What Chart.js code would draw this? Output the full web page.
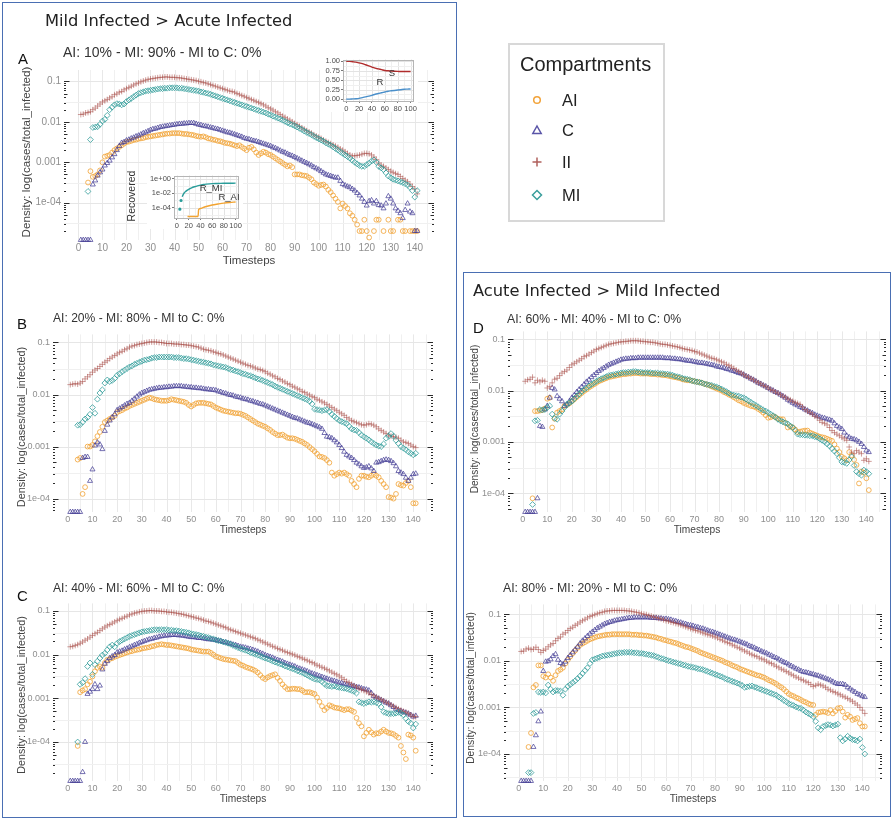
<!DOCTYPE html>
<html><head><meta charset="utf-8">
<script src="https://cdn.jsdelivr.net/npm/chart.js"></script>
<style>
html,body{margin:0;padding:0;background:#fff;}
body{width:893px;height:820px;position:relative;overflow:hidden;font-family:'Liberation Sans',Arial,sans-serif;}
canvas{position:absolute;}
.t{position:absolute;white-space:nowrap;line-height:1;z-index:5;}
.box{position:absolute;box-sizing:border-box;}
</style></head><body>
<script>
// ---------------- DATA ----------------
const timesteps = Array.from({length: 141}, (_, i) => i + 1);
const Z = -Infinity; // zero density: log10 = -Inf, drawn on the panel floor (as ggplot does)
const compartments = ['AI', 'C', 'II', 'MI'];
const xTickValues = [0,10,20,30,40,50,60,70,80,90,100,110,120,130,140];
const yTickValues = [1e-4, 1e-3, 1e-2, 1e-1];
const yTickLabels = ['1e-04', '0.001', '0.01', '0.1'];
const panelSubtitles = ['AI: 10% - MI: 90% - MI to C: 0%','AI: 20% - MI: 80% - MI to C: 0%','AI: 40% - MI: 60% - MI to C: 0%','AI: 60% - MI: 40% - MI to C: 0%','AI: 80% - MI: 20% - MI to C: 0%'];
const groupTitles = ['Mild Infected > Acute Infected', 'Acute Infected > Mild Infected'];

// values are log10(cases/total_infected), one per timestep 1..141
const A_AI = [null,null,null,-3.50,-3.22,-3.36,-3.34,-3.30,-3.20,-3.00,
-2.86,-2.84,-2.82,-2.76,-2.70,-2.66,-2.62,-2.58,-2.54,-2.50,
-2.49,-2.47,-2.45,-2.44,-2.42,-2.41,-2.40,-2.38,-2.37,-2.36,
-2.35,-2.34,-2.33,-2.32,-2.31,-2.30,-2.29,-2.29,-2.28,-2.28,
-2.28,-2.28,-2.29,-2.30,-2.30,-2.31,-2.32,-2.33,-2.35,-2.36,
-2.37,-2.36,-2.38,-2.41,-2.42,-2.44,-2.45,-2.47,-2.48,-2.50,
-2.52,-2.53,-2.54,-2.56,-2.58,-2.60,-2.58,-2.62,-2.66,-2.70,
-2.64,-2.62,-2.68,-2.76,-2.82,-2.78,-2.74,-2.76,-2.80,-2.82,
-2.86,-2.90,-2.94,-2.98,-3.02,-3.06,-3.10,-3.08,-3.12,-3.30,
-3.30,-3.30,-3.32,-3.33,-3.34,-3.38,-3.42,-3.50,-3.54,-3.58,
-3.56,-3.55,-3.60,-3.68,-3.74,-3.82,-3.90,-3.98,-4.14,-4.02,
-4.08,-4.14,-4.26,-4.32,-4.42,-4.54,-4.70,-4.70,-4.42,-4.70,
-4.86,null,-4.70,-4.42,-4.42,null,-4.70,null,-4.42,-4.70,
-4.70,null,-4.42,-4.42,-4.70,-4.70,null,-4.70,-4.70,-4.70,-4.70];
const A_C = [Z,Z,Z,Z,Z,-3.55,-3.45,-3.33,-3.25,-3.18,
-3.08,-3.02,-2.96,-2.88,-2.80,-2.70,-2.60,-2.52,-2.50,-2.46,
-2.44,-2.41,-2.39,-2.36,-2.34,-2.31,-2.28,-2.26,-2.23,-2.20,
-2.18,-2.17,-2.15,-2.13,-2.12,-2.11,-2.10,-2.09,-2.08,-2.07,
-2.06,-2.05,-2.05,-2.04,-2.04,-2.03,-2.03,-2.03,-2.05,-2.07,
-2.08,-2.10,-2.11,-2.12,-2.14,-2.15,-2.17,-2.18,-2.20,-2.22,
-2.24,-2.26,-2.27,-2.29,-2.31,-2.33,-2.35,-2.37,-2.40,-2.42,
-2.43,-2.45,-2.47,-2.48,-2.50,-2.52,-2.54,-2.56,-2.58,-2.60,
-2.63,-2.65,-2.68,-2.71,-2.74,-2.76,-2.79,-2.82,-2.84,-2.87,
-2.90,-2.93,-2.96,-2.99,-3.02,-3.05,-3.08,-3.12,-3.15,-3.18,
-3.22,-3.26,-3.30,-3.32,-3.34,-3.36,-3.38,-3.38,-3.46,-3.54,
-3.57,-3.60,-3.62,-3.66,-3.70,-3.76,-3.82,-3.90,-3.98,-4.07,
-3.96,-3.94,-4.02,-3.96,-4.06,-4.07,-4.14,-4.02,-3.84,-3.90,
-4.02,-4.14,-4.20,-4.26,-4.38,-4.18,-4.02,-4.22,-4.26,-4.70,-4.70];
const A_II = [-1.82,-1.81,-1.78,-1.77,-1.75,-1.70,-1.66,-1.61,-1.56,-1.51,
-1.48,-1.45,-1.41,-1.38,-1.33,-1.31,-1.27,-1.25,-1.21,-1.18,
-1.15,-1.12,-1.09,-1.06,-1.04,-1.01,-0.99,-0.97,-0.95,-0.94,
-0.93,-0.92,-0.91,-0.90,-0.90,-0.89,-0.89,-0.90,-0.90,-0.90,
-0.91,-0.91,-0.92,-0.93,-0.94,-0.95,-0.96,-0.97,-0.98,-1.00,
-1.01,-1.03,-1.04,-1.06,-1.08,-1.10,-1.12,-1.14,-1.16,-1.18,
-1.20,-1.22,-1.24,-1.25,-1.27,-1.30,-1.32,-1.35,-1.37,-1.40,
-1.42,-1.45,-1.47,-1.50,-1.52,-1.55,-1.58,-1.61,-1.65,-1.68,
-1.71,-1.75,-1.78,-1.82,-1.86,-1.89,-1.93,-1.96,-2.00,-2.04,
-2.07,-2.11,-2.15,-2.18,-2.22,-2.25,-2.28,-2.32,-2.35,-2.38,
-2.41,-2.45,-2.48,-2.51,-2.54,-2.57,-2.60,-2.63,-2.67,-2.70,
-2.74,-2.78,-2.82,-2.84,-2.84,-2.83,-2.82,-2.80,-2.78,-2.78,
-2.79,-2.82,-2.87,-2.93,-3.02,-3.07,-3.10,-3.14,-3.18,-3.22,
-3.25,-3.28,-3.30,-3.35,-3.40,-3.44,-3.48,-3.54,-3.60,-3.66,-3.78];
const A_MI = [null,null,null,-3.72,-2.44,-2.14,-2.13,-2.12,-2.06,-1.98,
-1.94,-1.84,-1.70,-1.64,-1.58,-1.55,-1.56,-1.58,-1.56,-1.50,
-1.46,-1.42,-1.38,-1.34,-1.30,-1.28,-1.26,-1.24,-1.23,-1.22,
-1.21,-1.20,-1.19,-1.18,-1.18,-1.17,-1.17,-1.16,-1.16,-1.16,
-1.16,-1.17,-1.17,-1.18,-1.19,-1.20,-1.21,-1.22,-1.23,-1.24,
-1.26,-1.27,-1.29,-1.30,-1.32,-1.34,-1.36,-1.38,-1.40,-1.42,
-1.44,-1.46,-1.48,-1.50,-1.52,-1.54,-1.56,-1.58,-1.60,-1.62,
-1.64,-1.66,-1.68,-1.70,-1.72,-1.74,-1.76,-1.78,-1.81,-1.83,
-1.86,-1.88,-1.91,-1.93,-1.96,-1.99,-2.02,-2.05,-2.07,-2.10,
-2.13,-2.16,-2.19,-2.23,-2.26,-2.29,-2.32,-2.36,-2.39,-2.42,
-2.45,-2.48,-2.52,-2.55,-2.58,-2.62,-2.66,-2.70,-2.74,-2.78,
-2.82,-2.86,-2.90,-2.95,-3.00,-3.04,-3.08,-3.10,-3.10,-3.06,
-3.02,-2.97,-2.94,-3.00,-3.10,-3.14,-3.18,-3.26,-3.34,-3.38,
-3.42,-3.44,-3.46,-3.48,-3.50,-3.53,-3.56,-3.62,-3.70,-3.86,-3.70];

const B_AI = [null,null,null,-3.25,-3.22,-3.91,-3.78,-3.00,-3.00,-2.97,
-2.90,-2.80,-2.72,-2.62,-2.53,-2.50,-2.47,-2.44,-2.41,-2.34,
-2.32,-2.30,-2.27,-2.25,-2.22,-2.20,-2.18,-2.16,-2.14,-2.12,
-2.10,-2.08,-2.06,-2.07,-2.09,-2.10,-2.11,-2.12,-2.12,-2.12,
-2.11,-2.09,-2.10,-2.11,-2.12,-2.13,-2.14,-2.16,-2.20,-2.23,
-2.20,-2.17,-2.16,-2.16,-2.16,-2.17,-2.18,-2.19,-2.22,-2.25,
-2.27,-2.29,-2.31,-2.32,-2.33,-2.34,-2.35,-2.36,-2.36,-2.37,
-2.39,-2.41,-2.44,-2.47,-2.50,-2.53,-2.56,-2.58,-2.60,-2.62,
-2.65,-2.68,-2.72,-2.75,-2.78,-2.78,-2.77,-2.80,-2.83,-2.84,
-2.84,-2.85,-2.87,-2.89,-2.91,-2.94,-2.97,-3.01,-3.05,-3.09,
-3.14,-3.19,-3.20,-3.22,-3.26,-3.31,-3.50,-3.56,-3.53,-3.50,
-3.52,-3.50,-3.53,-3.56,-3.66,-3.72,-3.78,-3.62,-3.56,-3.56,
-3.58,-3.59,-3.56,-3.53,-3.56,-3.59,-3.66,-3.72,-3.78,-3.97,
-3.98,-4.00,-3.91,-3.72,-3.74,-3.75,-3.70,-3.66,-3.78,-4.09,-4.09];
const B_C = [Z,Z,Z,Z,Z,-3.22,-3.20,-3.20,-3.66,-3.44,
-2.98,-2.92,-2.96,-3.05,-2.70,-2.58,-2.50,-2.44,-2.38,-2.30,
-2.27,-2.24,-2.21,-2.18,-2.16,-2.12,-2.08,-2.04,-2.00,-1.97,
-1.95,-1.93,-1.91,-1.90,-1.89,-1.88,-1.87,-1.87,-1.86,-1.86,
-1.85,-1.85,-1.84,-1.84,-1.84,-1.84,-1.85,-1.85,-1.86,-1.86,
-1.87,-1.87,-1.88,-1.88,-1.89,-1.90,-1.90,-1.91,-1.91,-1.92,
-1.94,-1.95,-1.97,-1.98,-2.00,-2.01,-2.02,-2.04,-2.05,-2.06,
-2.08,-2.09,-2.10,-2.12,-2.13,-2.15,-2.16,-2.18,-2.19,-2.21,
-2.23,-2.25,-2.27,-2.29,-2.31,-2.33,-2.35,-2.37,-2.39,-2.41,
-2.43,-2.45,-2.46,-2.48,-2.50,-2.52,-2.54,-2.55,-2.57,-2.59,
-2.61,-2.63,-2.66,-2.74,-2.81,-2.82,-2.84,-2.88,-2.92,-2.97,
-3.03,-3.10,-3.16,-3.19,-3.22,-3.26,-3.31,-3.34,-3.38,-3.41,
-3.40,-3.38,-3.42,-3.47,-3.31,-3.30,-3.28,-3.26,-3.25,-3.26,
-3.28,-3.32,-3.38,-3.47,-3.50,-3.53,-3.60,-3.66,-3.60,-3.53,-3.52];
const B_II = [-1.81,-1.80,-1.79,-1.80,-1.78,-1.75,-1.70,-1.66,-1.62,-1.57,
-1.53,-1.50,-1.46,-1.42,-1.38,-1.35,-1.31,-1.28,-1.25,-1.22,
-1.19,-1.17,-1.14,-1.12,-1.09,-1.07,-1.06,-1.04,-1.03,-1.02,
-1.01,-1.00,-0.99,-0.99,-0.99,-0.99,-1.00,-1.00,-1.01,-1.02,
-1.02,-1.02,-1.03,-1.03,-1.03,-1.04,-1.04,-1.05,-1.05,-1.06,
-1.07,-1.08,-1.09,-1.11,-1.13,-1.14,-1.15,-1.16,-1.18,-1.19,
-1.21,-1.22,-1.24,-1.26,-1.28,-1.30,-1.32,-1.34,-1.36,-1.38,
-1.40,-1.42,-1.44,-1.45,-1.47,-1.49,-1.51,-1.52,-1.54,-1.56,
-1.59,-1.61,-1.64,-1.66,-1.69,-1.71,-1.74,-1.76,-1.79,-1.81,
-1.84,-1.86,-1.89,-1.91,-1.94,-1.96,-1.99,-2.01,-2.04,-2.06,
-2.09,-2.11,-2.14,-2.16,-2.19,-2.22,-2.25,-2.28,-2.31,-2.34,
-2.37,-2.40,-2.44,-2.47,-2.50,-2.52,-2.54,-2.56,-2.58,-2.59,
-2.58,-2.56,-2.57,-2.59,-2.62,-2.66,-2.69,-2.72,-2.75,-2.78,
-2.80,-2.81,-2.82,-2.84,-2.88,-2.91,-2.92,-2.94,-2.97,-3.00,-3.02];
const B_MI = [null,null,null,-2.59,-2.58,-2.53,-2.47,-2.44,-2.38,-2.25,
-2.36,-2.09,-1.97,-1.91,-1.78,-1.72,-1.75,-1.73,-1.69,-1.63,
-1.60,-1.56,-1.53,-1.50,-1.47,-1.45,-1.42,-1.40,-1.38,-1.36,
-1.34,-1.33,-1.32,-1.30,-1.29,-1.29,-1.28,-1.28,-1.28,-1.28,
-1.28,-1.28,-1.29,-1.29,-1.29,-1.30,-1.31,-1.31,-1.32,-1.33,
-1.34,-1.35,-1.36,-1.37,-1.38,-1.39,-1.40,-1.41,-1.43,-1.44,
-1.45,-1.46,-1.47,-1.48,-1.50,-1.52,-1.53,-1.55,-1.56,-1.58,
-1.60,-1.61,-1.63,-1.64,-1.66,-1.68,-1.70,-1.71,-1.73,-1.75,
-1.77,-1.79,-1.81,-1.84,-1.86,-1.88,-1.90,-1.92,-1.94,-1.96,
-1.98,-2.00,-2.02,-2.04,-2.06,-2.08,-2.10,-2.13,-2.18,-2.28,
-2.29,-2.30,-2.31,-2.30,-2.29,-2.33,-2.38,-2.42,-2.46,-2.50,
-2.52,-2.54,-2.56,-2.61,-2.66,-2.68,-2.69,-2.73,-2.78,-2.81,
-2.84,-2.87,-2.91,-2.94,-2.97,-2.99,-3.00,-2.95,-2.84,-2.80,
-2.75,-2.80,-2.88,-2.94,-3.00,-3.03,-3.06,-3.10,-3.13,-3.16,-3.13];

const C_AI = [null,null,null,-4.09,-2.86,-2.82,-2.79,-2.68,-2.62,-2.50,
-2.38,-2.30,-2.27,-2.30,-2.19,-2.12,-2.10,-2.08,-2.05,-2.03,
-2.01,-1.99,-1.97,-1.95,-1.93,-1.92,-1.90,-1.89,-1.88,-1.86,
-1.85,-1.84,-1.83,-1.81,-1.80,-1.78,-1.77,-1.76,-1.77,-1.78,
-1.78,-1.79,-1.80,-1.81,-1.82,-1.83,-1.84,-1.85,-1.86,-1.88,
-1.89,-1.90,-1.91,-1.92,-1.93,-1.93,-1.93,-1.96,-2.00,-2.04,
-2.06,-2.08,-2.10,-2.11,-2.12,-2.13,-2.14,-2.15,-2.19,-2.23,
-2.25,-2.28,-2.30,-2.32,-2.34,-2.37,-2.41,-2.47,-2.53,-2.56,
-2.52,-2.49,-2.47,-2.45,-2.53,-2.60,-2.68,-2.74,-2.79,-2.79,
-2.78,-2.78,-2.79,-2.79,-2.82,-2.86,-2.86,-2.86,-2.88,-2.90,
-2.98,-3.08,-3.18,-3.27,-3.22,-3.16,-3.18,-3.21,-3.22,-3.23,
-3.25,-3.27,-3.25,-3.25,-3.28,-3.31,-3.45,-3.57,-3.64,-3.87,
-3.79,-3.72,-3.78,-3.83,-3.80,-3.80,-3.76,-3.72,-3.76,-3.79,
-3.80,-3.82,-3.86,-3.90,-4.09,-4.24,-4.39,-3.83,-3.85,-3.90,-4.20];
const C_C = [Z,Z,Z,Z,Z,-4.69,-4.00,-2.90,-2.85,-2.79,
-2.68,-2.79,-2.71,-2.34,-2.21,-2.15,-2.08,-2.04,-2.01,-1.95,
-1.93,-1.91,-1.88,-1.86,-1.83,-1.81,-1.78,-1.76,-1.73,-1.71,
-1.69,-1.67,-1.65,-1.64,-1.62,-1.61,-1.59,-1.58,-1.57,-1.56,
-1.56,-1.55,-1.55,-1.55,-1.56,-1.56,-1.57,-1.58,-1.59,-1.60,
-1.60,-1.61,-1.62,-1.62,-1.63,-1.64,-1.65,-1.65,-1.66,-1.67,
-1.68,-1.69,-1.71,-1.72,-1.74,-1.75,-1.77,-1.78,-1.80,-1.82,
-1.83,-1.84,-1.86,-1.87,-1.89,-1.91,-1.93,-1.96,-1.98,-2.01,
-2.03,-2.05,-2.07,-2.10,-2.12,-2.14,-2.16,-2.19,-2.21,-2.23,
-2.25,-2.27,-2.30,-2.32,-2.34,-2.36,-2.38,-2.41,-2.43,-2.45,
-2.47,-2.49,-2.51,-2.53,-2.55,-2.57,-2.59,-2.60,-2.62,-2.64,
-2.65,-2.67,-2.68,-2.70,-2.71,-2.72,-2.74,-2.75,-2.77,-2.79,
-2.80,-2.82,-2.88,-2.95,-2.98,-3.01,-3.04,-3.07,-3.10,-3.12,
-3.16,-3.20,-3.24,-3.27,-3.29,-3.31,-3.33,-3.35,-3.38,-3.42,-3.40];
const C_II = [-1.82,-1.81,-1.79,-1.77,-1.74,-1.71,-1.67,-1.64,-1.60,-1.56,
-1.52,-1.49,-1.45,-1.41,-1.37,-1.34,-1.31,-1.28,-1.25,-1.22,
-1.19,-1.17,-1.14,-1.12,-1.09,-1.07,-1.05,-1.04,-1.02,-1.01,
-1.00,-1.00,-0.99,-0.99,-1.00,-1.00,-1.00,-1.01,-1.01,-1.02,
-1.03,-1.03,-1.04,-1.05,-1.06,-1.07,-1.08,-1.10,-1.11,-1.13,
-1.14,-1.16,-1.17,-1.19,-1.21,-1.23,-1.24,-1.26,-1.28,-1.30,
-1.32,-1.34,-1.36,-1.38,-1.41,-1.43,-1.45,-1.47,-1.49,-1.51,
-1.53,-1.55,-1.57,-1.59,-1.61,-1.63,-1.66,-1.68,-1.71,-1.73,
-1.76,-1.78,-1.81,-1.83,-1.86,-1.88,-1.90,-1.93,-1.95,-1.97,
-1.99,-2.01,-2.04,-2.06,-2.08,-2.11,-2.13,-2.16,-2.18,-2.21,
-2.24,-2.26,-2.29,-2.31,-2.34,-2.37,-2.40,-2.43,-2.46,-2.49,
-2.53,-2.57,-2.61,-2.64,-2.68,-2.71,-2.74,-2.77,-2.80,-2.82,
-2.85,-2.88,-2.91,-2.94,-2.97,-3.00,-3.03,-3.06,-3.09,-3.12,
-3.15,-3.18,-3.21,-3.24,-3.27,-3.30,-3.32,-3.35,-3.38,-3.42,-3.42];
const C_MI = [null,null,null,-4.00,-2.68,-2.64,-2.55,-2.27,-2.19,-2.45,
-2.23,-2.15,-2.08,-2.01,-1.97,-1.89,-1.82,-1.78,-1.82,-1.74,
-1.70,-1.67,-1.64,-1.61,-1.58,-1.56,-1.54,-1.52,-1.50,-1.48,
-1.47,-1.46,-1.45,-1.44,-1.43,-1.43,-1.43,-1.43,-1.43,-1.43,
-1.44,-1.44,-1.45,-1.45,-1.46,-1.47,-1.48,-1.49,-1.50,-1.52,
-1.53,-1.54,-1.55,-1.57,-1.58,-1.60,-1.61,-1.63,-1.64,-1.66,
-1.68,-1.69,-1.71,-1.72,-1.74,-1.76,-1.79,-1.81,-1.84,-1.86,
-1.88,-1.90,-1.92,-1.95,-1.97,-1.99,-2.01,-2.03,-2.06,-2.08,
-2.10,-2.12,-2.15,-2.17,-2.19,-2.21,-2.23,-2.26,-2.28,-2.30,
-2.32,-2.34,-2.37,-2.39,-2.41,-2.44,-2.47,-2.50,-2.53,-2.56,
-2.57,-2.58,-2.62,-2.67,-2.71,-2.72,-2.73,-2.72,-2.74,-2.75,
-2.76,-2.77,-2.78,-2.80,-2.82,-2.84,-2.88,-3.08,-3.10,-3.12,
-3.10,-3.08,-3.09,-3.08,-3.10,-3.12,-3.20,-3.31,-3.33,-3.35,
-3.35,-3.35,-3.34,-3.32,-3.34,-3.38,-3.46,-3.53,-3.57,-3.68,-3.59];

const D_AI = [null,null,null,-4.10,-2.40,-2.40,-2.39,-2.38,-2.35,-2.16,
-2.14,-2.72,-2.55,-2.43,-2.40,-2.37,-2.30,-2.28,-2.25,-2.21,
-2.17,-2.13,-2.09,-2.05,-2.01,-1.98,-1.94,-1.91,-1.88,-1.85,
-1.82,-1.80,-1.78,-1.76,-1.74,-1.73,-1.72,-1.71,-1.70,-1.69,
-1.68,-1.68,-1.67,-1.67,-1.66,-1.66,-1.66,-1.67,-1.67,-1.67,
-1.67,-1.68,-1.68,-1.68,-1.69,-1.69,-1.70,-1.70,-1.71,-1.72,
-1.73,-1.74,-1.75,-1.76,-1.78,-1.79,-1.80,-1.80,-1.81,-1.82,
-1.83,-1.84,-1.85,-1.87,-1.88,-1.90,-1.92,-1.94,-1.96,-1.98,
-2.00,-2.03,-2.05,-2.08,-2.10,-2.13,-2.16,-2.19,-2.21,-2.24,
-2.26,-2.28,-2.30,-2.31,-2.33,-2.36,-2.39,-2.43,-2.48,-2.53,
-2.52,-2.50,-2.52,-2.55,-2.56,-2.56,-2.63,-2.72,-2.70,-2.72,
-2.76,-2.81,-2.80,-2.79,-2.78,-2.78,-2.82,-2.84,-2.86,-2.88,
-2.90,-2.91,-2.92,-2.94,-2.96,-2.98,-3.05,-3.13,-3.20,-3.29,
-3.32,-3.36,-3.20,-3.26,-3.35,-3.45,-3.81,-3.58,-3.60,-3.71,-3.94];
const D_C = [Z,Z,Z,Z,Z,-4.10,-2.69,-2.71,-2.37,-2.30,
-2.14,-1.95,-1.98,-2.11,-2.16,-2.21,-2.30,-2.27,-2.21,-2.14,
-2.09,-2.03,-1.98,-1.93,-1.88,-1.83,-1.79,-1.74,-1.70,-1.66,
-1.62,-1.59,-1.56,-1.53,-1.50,-1.48,-1.46,-1.44,-1.42,-1.40,
-1.39,-1.38,-1.38,-1.37,-1.37,-1.37,-1.36,-1.36,-1.36,-1.36,
-1.36,-1.36,-1.36,-1.36,-1.36,-1.36,-1.36,-1.37,-1.37,-1.37,
-1.38,-1.38,-1.39,-1.39,-1.40,-1.41,-1.42,-1.42,-1.43,-1.44,
-1.45,-1.46,-1.46,-1.47,-1.48,-1.49,-1.50,-1.51,-1.53,-1.54,
-1.55,-1.56,-1.58,-1.59,-1.61,-1.62,-1.64,-1.66,-1.67,-1.69,
-1.72,-1.74,-1.77,-1.79,-1.82,-1.85,-1.87,-1.90,-1.92,-1.95,
-1.98,-2.00,-2.03,-2.05,-2.08,-2.11,-2.14,-2.18,-2.21,-2.24,
-2.27,-2.29,-2.32,-2.34,-2.37,-2.39,-2.42,-2.44,-2.47,-2.49,
-2.51,-2.53,-2.54,-2.56,-2.57,-2.59,-2.64,-2.69,-2.72,-2.75,
-2.82,-2.88,-2.91,-2.94,-2.95,-2.97,-3.00,-3.04,-3.10,-3.17,-3.20];
const D_II = [-1.82,-1.79,-1.78,-1.74,-1.85,-1.80,-1.83,-1.80,-1.82,-1.95,
-1.92,-1.85,-1.78,-1.76,-1.71,-1.66,-1.63,-1.60,-1.55,-1.50,
-1.47,-1.44,-1.41,-1.38,-1.34,-1.32,-1.29,-1.26,-1.23,-1.20,
-1.18,-1.16,-1.14,-1.12,-1.10,-1.09,-1.08,-1.07,-1.06,-1.05,
-1.05,-1.04,-1.04,-1.03,-1.03,-1.03,-1.03,-1.04,-1.04,-1.05,
-1.05,-1.06,-1.06,-1.07,-1.08,-1.09,-1.10,-1.10,-1.11,-1.12,
-1.13,-1.14,-1.15,-1.16,-1.18,-1.19,-1.20,-1.21,-1.22,-1.24,
-1.25,-1.27,-1.29,-1.31,-1.33,-1.35,-1.37,-1.38,-1.40,-1.42,
-1.44,-1.46,-1.49,-1.51,-1.54,-1.57,-1.60,-1.63,-1.66,-1.69,
-1.72,-1.74,-1.77,-1.79,-1.82,-1.85,-1.87,-1.90,-1.92,-1.95,
-1.98,-2.00,-2.03,-2.05,-2.08,-2.11,-2.13,-2.16,-2.18,-2.21,
-2.23,-2.25,-2.27,-2.32,-2.37,-2.40,-2.43,-2.46,-2.50,-2.53,
-2.58,-2.62,-2.64,-2.67,-2.72,-2.78,-2.82,-2.85,-2.88,-2.91,
-2.94,-2.97,-3.10,-3.20,-3.23,-3.17,-3.20,-3.23,-3.36,-3.33,-3.38];
const D_MI = [null,null,null,-4.22,-2.59,-2.58,-2.37,-2.38,-2.37,-2.33,
-2.30,-2.46,-2.54,-2.56,-2.46,-2.40,-2.33,-2.27,-2.24,-2.21,
-2.16,-2.11,-2.07,-2.02,-1.98,-1.95,-1.91,-1.88,-1.85,-1.82,
-1.79,-1.77,-1.75,-1.73,-1.71,-1.70,-1.69,-1.68,-1.67,-1.66,
-1.65,-1.65,-1.64,-1.64,-1.63,-1.63,-1.64,-1.64,-1.65,-1.65,
-1.65,-1.65,-1.66,-1.66,-1.66,-1.67,-1.67,-1.68,-1.68,-1.69,
-1.70,-1.72,-1.73,-1.74,-1.76,-1.77,-1.78,-1.79,-1.81,-1.82,
-1.83,-1.84,-1.85,-1.87,-1.88,-1.89,-1.90,-1.92,-1.93,-1.95,
-1.97,-2.00,-2.02,-2.05,-2.08,-2.09,-2.10,-2.11,-2.13,-2.14,
-2.17,-2.20,-2.23,-2.26,-2.29,-2.32,-2.35,-2.38,-2.40,-2.43,
-2.46,-2.49,-2.52,-2.56,-2.59,-2.61,-2.63,-2.65,-2.69,-2.72,
-2.78,-2.85,-2.86,-2.86,-2.87,-2.87,-2.88,-2.88,-2.90,-2.91,
-2.94,-2.97,-3.00,-3.04,-3.08,-3.13,-3.18,-3.23,-3.31,-3.39,
-3.40,-3.42,-3.35,-3.29,-3.46,-3.58,-3.62,-3.65,-3.55,-3.58,-3.62];

const E_AI = [null,null,null,-3.85,-3.55,-2.57,-2.52,-2.10,-2.10,-2.33,
-2.36,-2.29,-2.36,-2.43,-2.31,-2.22,-2.19,-2.15,-2.06,-1.98,
-1.91,-1.84,-1.78,-1.72,-1.66,-1.63,-1.60,-1.57,-1.54,-1.52,
-1.50,-1.48,-1.47,-1.46,-1.45,-1.44,-1.44,-1.43,-1.43,-1.43,
-1.43,-1.43,-1.43,-1.43,-1.43,-1.44,-1.44,-1.44,-1.45,-1.45,
-1.46,-1.46,-1.47,-1.48,-1.49,-1.50,-1.52,-1.53,-1.55,-1.56,
-1.58,-1.59,-1.61,-1.62,-1.64,-1.66,-1.68,-1.70,-1.71,-1.73,
-1.75,-1.77,-1.79,-1.82,-1.84,-1.86,-1.88,-1.90,-1.92,-1.94,
-1.96,-1.98,-2.00,-2.03,-2.05,-2.07,-2.10,-2.12,-2.14,-2.17,
-2.19,-2.21,-2.23,-2.25,-2.27,-2.29,-2.31,-2.32,-2.34,-2.36,
-2.39,-2.42,-2.44,-2.47,-2.50,-2.54,-2.57,-2.61,-2.66,-2.71,
-2.74,-2.76,-2.79,-2.81,-2.84,-2.87,-2.89,-2.92,-2.94,-2.95,
-3.16,-3.11,-3.10,-3.09,-3.10,-3.12,-3.06,-3.13,-3.08,-3.02,
-3.01,-3.09,-3.22,-3.16,-3.20,-3.27,-3.25,-3.23,-3.34,-3.41,-3.41];
const E_C = [Z,Z,Z,Z,Z,-3.85,-3.60,-3.30,-3.09,-2.22,
-2.02,-2.01,-1.97,-1.90,-1.86,-1.98,-2.05,-2.08,-2.02,-1.94,
-1.88,-1.82,-1.76,-1.70,-1.63,-1.57,-1.52,-1.47,-1.42,-1.38,
-1.34,-1.30,-1.27,-1.24,-1.21,-1.19,-1.17,-1.16,-1.14,-1.13,
-1.12,-1.11,-1.10,-1.09,-1.08,-1.08,-1.07,-1.07,-1.07,-1.07,
-1.07,-1.07,-1.07,-1.08,-1.08,-1.08,-1.09,-1.09,-1.10,-1.10,
-1.11,-1.12,-1.14,-1.15,-1.17,-1.18,-1.20,-1.21,-1.23,-1.24,
-1.25,-1.27,-1.28,-1.30,-1.31,-1.33,-1.35,-1.37,-1.38,-1.40,
-1.42,-1.44,-1.46,-1.48,-1.50,-1.52,-1.54,-1.55,-1.57,-1.59,
-1.61,-1.63,-1.65,-1.68,-1.70,-1.72,-1.75,-1.77,-1.80,-1.82,
-1.84,-1.87,-1.89,-1.92,-1.94,-1.97,-2.00,-2.03,-2.05,-2.08,
-2.11,-2.14,-2.17,-2.19,-2.22,-2.24,-2.25,-2.26,-2.28,-2.29,
-2.31,-2.32,-2.34,-2.36,-2.38,-2.40,-2.42,-2.45,-2.48,-2.50,
-2.50,-2.50,-2.52,-2.57,-2.60,-2.64,-2.67,-2.71,-2.73,-2.76,-2.78];
const E_II = [-1.80,-1.79,-1.75,-1.73,-1.76,-1.75,-1.71,-1.76,-1.82,-1.78,
-1.75,-1.70,-1.66,-1.63,-1.57,-1.52,-1.49,-1.43,-1.40,-1.35,
-1.31,-1.28,-1.24,-1.21,-1.17,-1.14,-1.11,-1.08,-1.05,-1.03,
-1.01,-0.99,-0.97,-0.96,-0.94,-0.93,-0.93,-0.92,-0.92,-0.92,
-0.92,-0.92,-0.92,-0.93,-0.93,-0.94,-0.95,-0.96,-0.97,-0.99,
-1.00,-1.01,-1.03,-1.04,-1.06,-1.07,-1.09,-1.10,-1.12,-1.14,
-1.15,-1.17,-1.18,-1.20,-1.21,-1.23,-1.25,-1.27,-1.29,-1.31,
-1.33,-1.35,-1.36,-1.38,-1.40,-1.42,-1.44,-1.45,-1.47,-1.49,
-1.51,-1.54,-1.56,-1.59,-1.61,-1.63,-1.66,-1.68,-1.71,-1.73,
-1.76,-1.79,-1.81,-1.84,-1.87,-1.89,-1.91,-1.94,-1.96,-1.98,
-2.01,-2.04,-2.06,-2.09,-2.12,-2.15,-2.18,-2.20,-2.23,-2.26,
-2.29,-2.32,-2.35,-2.37,-2.40,-2.42,-2.45,-2.47,-2.51,-2.55,
-2.53,-2.50,-2.52,-2.54,-2.57,-2.61,-2.63,-2.66,-2.68,-2.71,
-2.73,-2.76,-2.78,-2.81,-2.84,-2.87,-2.91,-2.95,-3.00,-3.06,-3.13];
const E_MI = [null,null,null,-4.40,-4.40,-3.13,-3.11,-2.67,-2.68,-2.67,
-2.69,-2.52,-2.61,-2.67,-2.64,-2.64,-2.65,-2.74,-2.61,-2.55,
-2.51,-2.47,-2.43,-2.38,-2.33,-2.27,-2.21,-2.15,-2.06,-1.98,
-1.96,-1.94,-1.92,-1.90,-1.89,-1.88,-1.87,-1.86,-1.85,-1.84,
-1.83,-1.83,-1.82,-1.82,-1.82,-1.82,-1.83,-1.83,-1.84,-1.84,
-1.85,-1.86,-1.87,-1.88,-1.89,-1.91,-1.93,-1.95,-1.96,-1.98,
-2.00,-2.01,-2.03,-2.04,-2.06,-2.07,-2.09,-2.10,-2.12,-2.13,
-2.14,-2.15,-2.17,-2.18,-2.19,-2.21,-2.23,-2.25,-2.27,-2.29,
-2.31,-2.33,-2.35,-2.38,-2.40,-2.42,-2.44,-2.46,-2.48,-2.50,
-2.53,-2.57,-2.56,-2.55,-2.54,-2.56,-2.58,-2.60,-2.62,-2.64,
-2.66,-2.68,-2.70,-2.72,-2.74,-2.78,-2.81,-2.85,-2.88,-2.92,
-2.94,-2.96,-2.99,-3.01,-3.02,-3.06,-3.10,-3.13,-3.16,-3.20,
-3.30,-3.44,-3.48,-3.41,-3.39,-3.37,-3.38,-3.40,-3.38,-3.36,
-3.65,-3.72,-3.68,-3.62,-3.66,-3.69,-3.70,-3.72,-3.68,-3.86,-4.00];

// Inset 1 (S and R fractions)
const insetTime = [0,5,10,15,20,25,30,35,40,45,50,55,60,65,70,75,80,85,90,95,100];
const insetS = [1.00,1.00,0.99,0.98,0.96,0.94,0.91,0.88,0.85,0.82,0.80,0.78,0.76,0.75,0.745,0.74,0.735,0.73,0.73,0.73,0.73];
const insetR = [0.00,0.00,0.005,0.01,0.02,0.04,0.06,0.08,0.10,0.13,0.15,0.17,0.19,0.21,0.22,0.23,0.24,0.25,0.26,0.265,0.27];
// Inset 2 (Recovered, log scale)
const rmiTime = [5,6,7,8,9,10,12,15,20,25,30,35,40,45,50,60,70,80,90,100];
const rMI = [6.3e-5,null,1.0e-3,null,3.2e-3,5.0e-3,1.0e-2,1.8e-2,3.5e-2,5.6e-2,7.9e-2,0.105,0.13,0.16,0.18,0.21,0.22,0.235,0.24,0.245];
const raiTime = [18,20,25,30,36,37,40,45,50,60,70,80,90,100];
const rAI = [6.3e-6,6.3e-6,6.3e-6,6.3e-6,6.3e-6,5.6e-5,7.9e-5,1.1e-4,1.5e-4,2.4e-4,3.3e-4,4.4e-4,5.4e-4,6.3e-4];

// ---------------- STYLE / LAYOUT ----------------
const SANS = "'Liberation Sans', Arial, sans-serif";
const TITLEF = "'DejaVu Sans', sans-serif";
Chart.defaults.font.family = SANS;
const seriesStyle = {
  AI: {shape: 'circle',  r: 2.4, color: 'rgba(242,163,55,0.9)'},
  C:  {shape: 'triangle', r: 2.9, color: 'rgba(66,58,148,0.8)'},
  II: {shape: 'cross',   r: 2.9, color: 'rgba(168,78,72,0.62)'},
  MI: {shape: 'rectRot', r: 2.9, color: 'rgba(40,152,150,0.85)'}
};
const drawOrder = ['MI', 'II', 'C', 'AI']; // first = top-most in Chart.js
const panels = [
  {key:'A', series:{AI:A_AI, C:A_C, II:A_II, MI:A_MI}, left:64,  right:434, top:65,  bottom:240, ymin:1.20e-5, ymax:0.191, font:10},
  {key:'B', series:{AI:B_AI, C:B_C, II:B_II, MI:B_MI}, left:53,  right:433, top:330, bottom:512, ymin:5.53e-5, ymax:0.143, font:9},
  {key:'C', series:{AI:C_AI, C:C_C, II:C_II, MI:C_MI}, left:53,  right:433, top:599, bottom:781, ymin:1.28e-5, ymax:0.149, font:9},
  {key:'D', series:{AI:D_AI, C:D_C, II:D_II, MI:D_MI}, left:508, right:886, top:327, bottom:512, ymin:4.30e-5, ymax:0.142, font:9},
  {key:'E', series:{AI:E_AI, C:E_C, II:E_II, MI:E_MI}, left:504, right:882, top:600, bottom:781, ymin:2.63e-5, ymax:0.162, font:9}
];
const yMinorGrid = [10 ** -4.5, 10 ** -3.5, 10 ** -2.5, 10 ** -1.5];

function hline(ctx, x1, x2, y, c, w) { ctx.strokeStyle = c; ctx.lineWidth = w; ctx.beginPath(); ctx.moveTo(x1, y); ctx.lineTo(x2, y); ctx.stroke(); }
function vline(ctx, x, y1, y2, c, w) { ctx.strokeStyle = c; ctx.lineWidth = w; ctx.beginPath(); ctx.moveTo(x, y1); ctx.lineTo(x, y2); ctx.stroke(); }

const panelPlugin = {
  id: 'ggPanel',
  beforeDatasetsDraw(chart) {
    const {ctx, chartArea: a, scales: {x, y}} = chart;
    ctx.save();
    for (let v = 0; v <= 145; v += 5) {
      const px = Math.round(x.getPixelForValue(v)) + 0.5;
      vline(ctx, px, a.top, a.bottom, v % 10 === 0 ? '#e8e8e8' : '#f0f0f0', 1);
    }
    yMinorGrid.forEach(v => { if (v > y.min && v < y.max) hline(ctx, a.left, a.right, Math.round(y.getPixelForValue(v)) + 0.5, '#f0f0f0', 1); });
    yTickValues.forEach(v => { if (v > y.min && v < y.max) hline(ctx, a.left, a.right, Math.round(y.getPixelForValue(v)) + 0.5, '#e6e6e6', 1); });
    ctx.restore();
  },
  afterDatasetsDraw(chart) {
    const {ctx, chartArea: a, scales: {y}} = chart;
    ctx.save();
    for (let d = -6; d <= 0; d++) for (let k = 1; k <= 9; k++) {
      const v = k * Math.pow(10, d);
      if (v < y.min || v > y.max) continue;
      const py = Math.round(y.getPixelForValue(v)) + 0.5;
      const len = k === 1 ? 5.5 : (k === 5 ? 3.5 : 2);
      hline(ctx, a.left, a.left + len, py, '#2b2b2b', 1);
      hline(ctx, a.right - len, a.right, py, '#2b2b2b', 1);
    }
    ctx.restore();
  }
};

function makePanel(p) {
  const YW = 44, PADT = 4, PADR = 4, XH = 16;
  const cv = document.createElement('canvas');
  cv.width = (p.right - p.left) + YW + PADR;
  cv.height = (p.bottom - p.top) + PADT + XH;
  cv.style.left = (p.left - YW) + 'px';
  cv.style.top = (p.top - PADT) + 'px';
  document.body.appendChild(cv);
  const datasets = drawOrder.map(k => {
    const s = seriesStyle[k];
    const data = [];
    p.series[k].forEach((v, i) => { if (v !== null) data.push({x: timesteps[i], y: v === Z ? p.ymin : Math.pow(10, v)}); });
    return {label: k, data, showLine: false, clip: false, pointStyle: s.shape, pointRadius: s.r, pointHoverRadius: s.r,
      pointBorderColor: s.color, pointBackgroundColor: 'rgba(0,0,0,0)', pointBorderWidth: 0.9, borderColor: s.color, backgroundColor: 'rgba(0,0,0,0)'};
  });
  new Chart(cv, {
    type: 'scatter',
    data: {datasets},
    plugins: [panelPlugin],
    options: {
      responsive: false, animation: false, devicePixelRatio: 1, events: [],
      layout: {padding: {top: PADT, right: PADR, left: 0, bottom: 0}, autoPadding: false},
      plugins: {legend: {display: false}, tooltip: {enabled: false}},
      scales: {
        x: {type: 'linear', min: -6, max: 148,
          afterBuildTicks: s => { s.ticks = xTickValues.map(v => ({value: v})); },
          afterFit: s => { s.height = XH; },
          grid: {display: false, drawTicks: false}, border: {display: false},
          ticks: {autoSkip: false, maxRotation: 0, minRotation: 0, padding: 2, color: '#8f8f8f', font: {size: p.font, family: SANS}, callback: v => String(v)}},
        y: {type: 'logarithmic', min: p.ymin, max: p.ymax,
          afterBuildTicks: s => { s.ticks = yTickValues.map(v => ({value: v})); },
          afterFit: s => { s.width = YW; },
          grid: {display: false, drawTicks: false}, border: {display: false},
          ticks: {autoSkip: false, padding: 3, color: '#8f8f8f', font: {size: p.font, family: SANS}, callback: (v, i) => yTickLabels[i]}}
      }
    }
  });
}
panels.forEach(makePanel);

// ---------- insets ----------
function insetPlugin(cfg) {
  return {
    id: 'ggInset',
    beforeDraw(chart) {
      const {ctx} = chart; ctx.save(); ctx.fillStyle = '#fff'; ctx.fillRect(0, 0, chart.width, chart.height); ctx.restore();
    },
    beforeDatasetsDraw(chart) {
      const {ctx, chartArea: a, scales: {x, y}} = chart;
      ctx.save();
      cfg.xGrid.forEach(v => vline(ctx, Math.round(x.getPixelForValue(v)) + 0.5, a.top, a.bottom, v % 20 === 0 ? '#e3e3e3' : '#f0f0f0', 1));
      cfg.yMinor.forEach(v => hline(ctx, a.left, a.right, Math.round(y.getPixelForValue(v)) + 0.5, '#f0f0f0', 1));
      cfg.yMajor.forEach(v => hline(ctx, a.left, a.right, Math.round(y.getPixelForValue(v)) + 0.5, '#e3e3e3', 1));
      ctx.restore();
    },
    afterDatasetsDraw(chart) {
      const {ctx, chartArea: a} = chart;
      ctx.save(); ctx.strokeStyle = '#b5b5b5'; ctx.lineWidth = 1;
      ctx.strokeRect(Math.round(a.left) + 0.5, Math.round(a.top) + 0.5, Math.round(a.right - a.left) - 1, Math.round(a.bottom - a.top) - 1);
      ctx.restore();
    }
  };
}
function makeInset(cfg) {
  const PADT = 2, PADR = 3;
  const cv = document.createElement('canvas');
  cv.width = (cfg.right - cfg.left) + cfg.YW + PADR;
  cv.height = (cfg.bottom - cfg.top) + PADT + cfg.XH;
  cv.style.left = (cfg.left - cfg.YW) + 'px';
  cv.style.top = (cfg.top - PADT) + 'px';
  cv.style.zIndex = 3;
  document.body.appendChild(cv);
  const tickFont = {size: 7.5, family: SANS};
  new Chart(cv, {
    type: 'line',
    data: {datasets: cfg.datasets},
    plugins: [insetPlugin(cfg)],
    options: {
      responsive: false, animation: false, devicePixelRatio: 1, events: [],
      layout: {padding: {top: PADT, right: PADR, left: 0, bottom: 0}, autoPadding: false},
      plugins: {legend: {display: false}, tooltip: {enabled: false}},
      elements: {point: {radius: 0}},
      scales: {
        x: {type: 'linear', min: -5, max: 105,
          afterBuildTicks: s => { s.ticks = [0,20,40,60,80,100].map(v => ({value: v})); },
          afterFit: s => { s.height = cfg.XH; },
          grid: {display: true, drawOnChartArea: false, drawTicks: true, tickLength: 2, color: '#555', lineWidth: 0.8}, border: {display: false},
          ticks: {autoSkip: false, maxRotation: 0, minRotation: 0, padding: 1, color: '#4d4d4d', font: tickFont, callback: v => String(v)}},
        y: {type: cfg.yType, min: cfg.ymin, max: cfg.ymax,
          afterBuildTicks: s => { s.ticks = cfg.yMajor.map(v => ({value: v})); },
          afterFit: s => { s.width = cfg.YW; },
          grid: {display: true, drawOnChartArea: false, drawTicks: true, tickLength: 2, color: '#555', lineWidth: 0.8}, border: {display: false},
          ticks: {autoSkip: false, padding: 1, color: '#4d4d4d', font: tickFont, callback: (v, i) => cfg.yLabels[i]}}
      }
    }
  });
}
const lineDs = (xs, ys, color, extra) => Object.assign({
  data: xs.map((t, i) => ({x: t, y: ys[i]})), borderColor: color, borderWidth: 1.4, backgroundColor: color,
  pointRadius: 0, cubicInterpolationMode: 'monotone', spanGaps: false, fill: false}, extra || {});
makeInset({
  left: 343, right: 415, top: 56, bottom: 101, YW: 22, XH: 11, yType: 'linear', ymin: -0.05, ymax: 1.05,
  yMajor: [0, 0.25, 0.5, 0.75, 1], yLabels: ['0.00', '0.25', '0.50', '0.75', '1.00'], yMinor: [0.125, 0.375, 0.625, 0.875],
  xGrid: [0,10,20,30,40,50,60,70,80,90,100],
  datasets: [lineDs(insetTime, insetS, '#b02c2c'), lineDs(insetTime, insetR, '#4a8fca')]
});
makeInset({
  left: 174, right: 240, top: 172, bottom: 218, YW: 27, XH: 11, yType: 'logarithmic', ymin: 3.85e-6, ymax: 2.79,
  yMajor: [1e-4, 1e-2, 1], yLabels: ['1e-04', '1e-02', '1e+00'], yMinor: [1e-5, 1e-3, 1e-1],
  xGrid: [0,10,20,30,40,50,60,70,80,90,100],
  datasets: [
    lineDs(rmiTime, rMI, '#2a9d9a', {pointRadius: c => (c.dataIndex < 3 ? 0.9 : 0)}),
    lineDs(raiTime, rAI, '#f2a330')
  ]
});

// ---------- text & decorations ----------
function addText(s, x, y, o) {
  o = o || {};
  const d = document.createElement('div');
  d.className = 't';
  d.textContent = s;
  d.style.left = x + 'px'; d.style.top = y + 'px';
  d.style.fontSize = (o.size || 12) + 'px';
  d.style.fontFamily = o.family || SANS;
  d.style.color = o.color || '#333';
  d.style.transform = o.rotate ? 'translate(-50%,-50%) rotate(-90deg)' : (o.center ? 'translate(-50%,-50%)' : 'translateY(-50%)');
  document.body.appendChild(d);
}
function addBox(x, y, w, h, css) {
  const d = document.createElement('div'); d.className = 'box';
  d.style.left = x + 'px'; d.style.top = y + 'px'; d.style.width = w + 'px'; d.style.height = h + 'px';
  d.style.cssText += css; document.body.appendChild(d);
}
addBox(2, 2, 455, 816, 'border:1.5px solid #4a6fb3;');
addBox(463, 272, 428, 545, 'border:1.5px solid #4a6fb3;');
addBox(508, 43, 157, 179, 'border:2px solid #d8d8d8;');

addText(groupTitles[0], 45, 21, {size: 16.3, family: TITLEF, color: '#222'});
addText(groupTitles[1], 473, 291, {size: 16.3, family: TITLEF, color: '#222'});
addText(panelSubtitles[0], 63, 52, {size: 14});
addText(panelSubtitles[1], 53, 318, {size: 12.1});
addText(panelSubtitles[2], 53, 588, {size: 12.1});
addText(panelSubtitles[3], 507, 319, {size: 12.3});
addText(panelSubtitles[4], 503, 588, {size: 12.3});
addText('A', 18, 58, {size: 15, color: '#111'});
addText('B', 17, 323, {size: 15, color: '#111'});
addText('C', 17, 595, {size: 15, color: '#111'});
addText('D', 473, 327, {size: 15, color: '#111'});
const yTitle = 'Density: log(cases/total_infected)';
addText(yTitle, 26, 152, {size: 11.6, rotate: true, color: '#444'});
addText(yTitle, 21, 427, {size: 10.9, rotate: true, color: '#444'});
addText(yTitle, 21, 695, {size: 10.7, rotate: true, color: '#444'});
addText(yTitle, 475, 419, {size: 10.1, rotate: true, color: '#444'});
addText(yTitle, 471, 688, {size: 10.3, rotate: true, color: '#444'});
addText('Timesteps', 249, 261, {size: 11.5, center: true, color: '#444'});
addText('Timesteps', 243, 530, {size: 10.2, center: true, color: '#444'});
addText('Timesteps', 243, 799, {size: 10.2, center: true, color: '#444'});
addText('Timesteps', 697, 530, {size: 10.2, center: true, color: '#444'});
addText('Timesteps', 693, 799, {size: 10.2, center: true, color: '#444'});
// inset labels
addText('S', 392, 73, {size: 9.5, center: true, color: '#333'});
addText('R', 380, 82, {size: 9.5, center: true, color: '#333'});
addText('R_MI', 211, 188, {size: 9.5, center: true, color: '#333'});
addText('R_AI', 229, 197, {size: 9.5, center: true, color: '#333'});
addText('Recovered', 131, 196, {size: 10.5, rotate: true, color: '#333'});

// legend
addText('Compartments', 520, 64, {size: 20, color: '#222'});
const legendY = [100, 129.5, 162, 195];
const legendColors = {AI: '#f2a33a', C: '#5a55a8', II: '#b0605c', MI: '#3a9e9c'};
const NS = 'http://www.w3.org/2000/svg';
compartments.forEach((k, i) => {
  addText(k, 562, legendY[i], {size: 16.5, color: '#222'});
  const svg = document.createElementNS(NS, 'svg');
  svg.setAttribute('width', 14); svg.setAttribute('height', 14);
  svg.style.position = 'absolute'; svg.style.left = (537 - 7) + 'px'; svg.style.top = (legendY[i] - 7) + 'px';
  let el;
  const c = legendColors[k];
  if (k === 'AI') { el = document.createElementNS(NS, 'circle'); el.setAttribute('cx', 7); el.setAttribute('cy', 7); el.setAttribute('r', 3.3); }
  if (k === 'C') { el = document.createElementNS(NS, 'polygon'); el.setAttribute('points', '7,3 11.2,10.5 2.8,10.5'); }
  if (k === 'II') { el = document.createElementNS(NS, 'path'); el.setAttribute('d', 'M7 2.5 V11.5 M2.5 7 H11.5'); }
  if (k === 'MI') { el = document.createElementNS(NS, 'polygon'); el.setAttribute('points', '7,2.5 11.5,7 7,11.5 2.5,7'); }
  el.setAttribute('fill', 'none'); el.setAttribute('stroke', c); el.setAttribute('stroke-width', 1.5);
  svg.appendChild(el); document.body.appendChild(svg);
});
</script>
</body></html>
